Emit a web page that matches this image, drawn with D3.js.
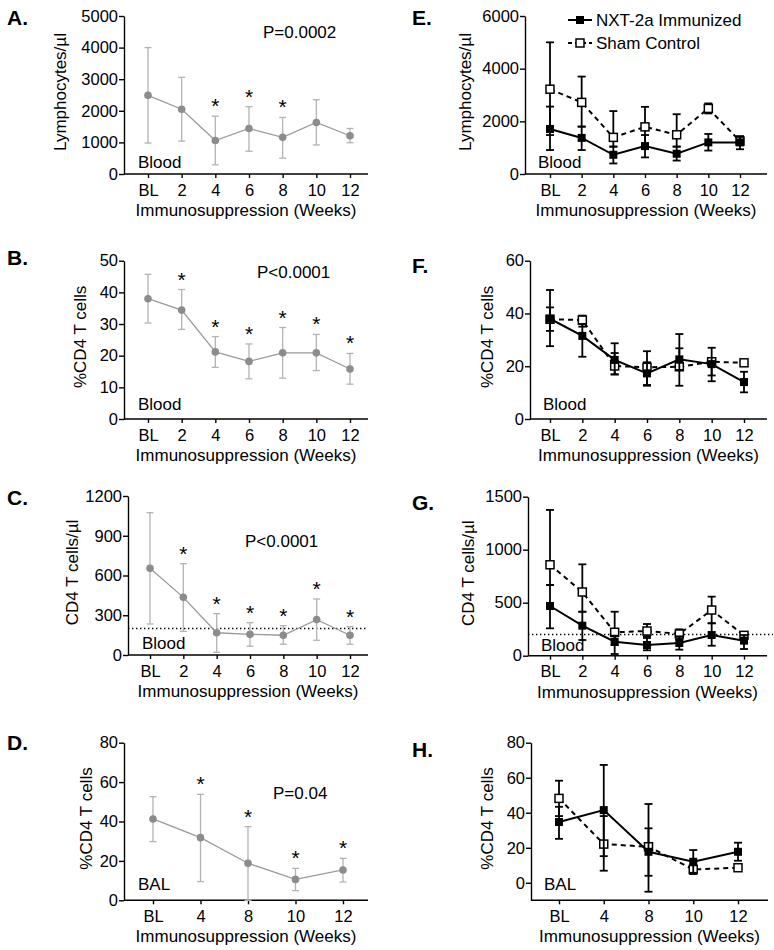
<!DOCTYPE html>
<html>
<head>
<meta charset="utf-8">
<script src="https://cdn.jsdelivr.net/npm/d3@7"></script>
<style>
    body { margin: 0; background: #fff; }
    svg { font-family: "Liberation Sans", Arial, sans-serif; }
</style>
</head>
<body>
<svg id="drawing_region" width="774" height="950"></svg>
<script>
// x categories
const weeksBlood = ["BL", "2", "4", "6", "8", "10", "12"];
const weeksBal = ["BL", "4", "8", "10", "12"];

// A. lymphocytes, all animals
const lymphMean = [2490, 2050, 1060, 1440, 1160, 1630, 1210];
const lymphLow = [980, 1040, 290, 720, 500, 920, 990];
const lymphHigh = [4000, 3060, 1830, 2130, 1790, 2350, 1440];
const lymphStars = [0, 0, 1, 1, 1, 0, 0];

// B. %CD4 blood, all animals
const pctMean = [38.0, 34.4, 21.2, 18.2, 20.9, 20.9, 15.8];
const pctLow = [30.3, 28.3, 16.3, 12.7, 12.9, 15.3, 11.0];
const pctHigh = [45.7, 40.9, 26.0, 23.7, 28.9, 26.7, 20.7];
const pctStars = [0, 1, 1, 1, 1, 1, 1];

// C. CD4 counts, all animals
const countMean = [654, 435, 168, 156, 149, 267, 149];
const countLow = [234, 179, 20, 66, 81, 111, 81];
const countHigh = [1074, 689, 312, 244, 221, 423, 214];
const countStars = [0, 1, 1, 1, 1, 1, 1];

// D. %CD4 BAL, all animals
const balMean = [41.3, 31.8, 18.8, 10.6, 15.4];
const balLow = [29.8, 9.5, 0, 4.9, 9.3];
const balHigh = [52.6, 53.8, 37.4, 16.2, 21.3];
const balStars = [0, 1, 1, 1, 1];

// E. lymphocytes by group
const immLymphMean = [1710, 1370, 730, 1060, 770, 1200, 1200];
const immLymphLow = [910, 910, 400, 630, 510, 890, 940];
const immLymphHigh = [2560, 1800, 1040, 1480, 1040, 1520, 1440];
const shamLymphMean = [3220, 2720, 1390, 1790, 1490, 2490, 1250];
const shamLymphLow = [1480, 1800, 1040, 1100, 1040, 2300, 1100];
const shamLymphHigh = [5000, 3700, 2390, 2550, 2270, 2680, 1400];

// F. %CD4 blood by group
const immPctMean = [38.0, 31.5, 22.4, 17.3, 22.6, 20.8, 14.0];
const immPctLow = [27.6, 23.6, 16.9, 12.6, 18.6, 14.3, 10.1];
const immPctHigh = [48.9, 36.0, 28.7, 21.5, 26.8, 27.0, 17.9];
const shamPctMean = [37.8, 37.5, 20.1, 19.6, 19.8, 21.7, 21.3];
const shamPctLow = [33.4, 35.0, 16.9, 12.9, 12.6, 16.5, 21.3];
const shamPctHigh = [42.3, 39.2, 25.0, 25.7, 32.2, 23.0, 21.3];

// G. CD4 counts by group
const immCountMean = [469, 283, 132, 101, 120, 195, 142];
const immCountLow = [258, 148, 16, 51, 57, 94, 63];
const immCountHigh = [667, 415, 189, 183, 183, 306, 195];
const shamCountMean = [858, 601, 221, 233, 205, 431, 192];
const shamCountLow = [667, 415, 100, 167, 155, 306, 164];
const shamCountHigh = [1375, 862, 415, 299, 249, 557, 220];

// H. %CD4 BAL by group
const immBalMean = [34.7, 41.5, 17.7, 12.0, 17.7];
const immBalLow = [25.1, 15.2, 4.0, 5.7, 12.6];
const immBalHigh = [43.4, 67.3, 31.1, 18.7, 22.9];
const shamBalMean = [48.2, 22.1, 20.6, 7.6, 8.6];
const shamBalLow = [38.1, 6.9, -5.1, 5.0, 8.6];
const shamBalHigh = [58.3, 38.1, 45.0, 10.0, 8.6];

const CD4_THRESHOLD = 200;

const svg = d3.select('#drawing_region');
const FONT = 16.5;

function drawPanel(c) {
    const g = svg.append('g');

    const x = d3.scalePoint().domain(c.weeks).range([c.px0, c.px1]);
    const y = d3.scaleLinear().domain(c.domain).range([c.yBottom, c.yTop]);

    // axes
    const yg = g.append('g')
        .attr('transform', `translate(${c.x0},0)`)
        .call(d3.axisLeft(y).tickValues(c.ticks).tickFormat(d3.format('d'))
            .tickSize(5).tickSizeOuter(0).tickPadding(1));
    const xg = g.append('g')
        .attr('transform', `translate(0,${c.yBottom})`)
        .call(d3.axisBottom(x).tickSize(4).tickSizeOuter(0).tickPadding(6));
    xg.select('.domain').remove();
    xg.append('line')
        .attr('x1', c.x0).attr('x2', c.x1)
        .attr('stroke', '#000').attr('stroke-width', 1.4);
    [yg, xg].forEach(a => {
        a.attr('font-size', FONT).attr('font-family', null);
        a.selectAll('path, line').attr('stroke-width', 1.4);
    });

    // axis titles
    g.append('text')
        .attr('transform', `translate(${c.titleX},${(c.yTop + c.yBottom) / 2 - 3}) rotate(-90)`)
        .attr('text-anchor', 'middle')
        .attr('dominant-baseline', 'central')
        .attr('font-size', FONT + 0.5)
        .text(c.yTitle);
    g.append('text')
        .attr('x', (c.x0 + c.x1) / 2)
        .attr('y', c.yBottom + 42)
        .attr('text-anchor', 'middle')
        .attr('font-size', FONT + 0.5)
        .text('Immunosuppression (Weeks)');

    // panel letter
    g.append('text')
        .attr('x', c.letterX).attr('y', c.letterY)
        .attr('font-size', 21)
        .attr('font-weight', 'bold')
        .text(c.letter);

    // tissue label
    g.append('text')
        .attr('x', c.x0 + c.tissueDx)
        .attr('y', c.tissueY)
        .attr('font-size', FONT + 0.5)
        .text(c.tissue);

    if (c.pText) {
        g.append('text')
            .attr('x', c.pX).attr('y', c.pY)
            .attr('font-size', FONT + 0.5)
            .text(c.pText);
    }

    if (c.threshold) {
        g.append('line')
            .attr('x1', c.x0).attr('x2', c.dotEnd)
            .attr('y1', y(c.threshold)).attr('y2', y(c.threshold))
            .attr('stroke', '#000')
            .attr('stroke-width', 1.3)
            .attr('stroke-dasharray', '1.4,2.6');
    }

    c.series.forEach(s => {
        const gray = s.style === 'gray';
        const barCol = gray ? '#b3b3b3' : '#000';
        const barW = gray ? 1.3 : 1.8;
        const capHalf = gray ? 3.5 : 4;
        const sg = g.append('g');

        const line = d3.line()
            .x((d, i) => x(c.weeks[i]))
            .y(d => y(d));
        sg.append('path')
            .datum(s.mean)
            .attr('d', line)
            .attr('fill', 'none')
            .attr('stroke', gray ? '#9a9a9a' : '#000')
            .attr('stroke-width', gray ? 1.3 : 2)
            .attr('stroke-dasharray', s.style === 'open' ? '5,4' : null);

        c.weeks.forEach((w, i) => {
            const cx = x(w);
            sg.append('line')
                .attr('x1', cx).attr('x2', cx)
                .attr('y1', y(s.low[i])).attr('y2', y(s.high[i]))
                .attr('stroke', barCol).attr('stroke-width', barW);
            [s.low[i], s.high[i]].forEach(v => {
                sg.append('line')
                    .attr('x1', cx - capHalf).attr('x2', cx + capHalf)
                    .attr('y1', y(v)).attr('y2', y(v))
                    .attr('stroke', barCol).attr('stroke-width', barW);
            });
        });

        if (gray) {
            sg.selectAll('circle')
                .data(s.mean)
                .enter()
                .append('circle')
                .attr('cx', (d, i) => x(c.weeks[i]))
                .attr('cy', d => y(d))
                .attr('r', 3.8)
                .attr('fill', '#8c8c8c');
        } else {
            sg.selectAll('rect')
                .data(s.mean)
                .enter()
                .append('rect')
                .attr('x', (d, i) => x(c.weeks[i]) - 4)
                .attr('y', d => y(d) - 4)
                .attr('width', 8).attr('height', 8)
                .attr('fill', s.style === 'open' ? '#fff' : '#000')
                .attr('stroke', '#000')
                .attr('stroke-width', s.style === 'open' ? 1.5 : 0);
        }

        if (s.stars) {
            const marked = s.stars
                .map((v, i) => ({ v: v, i: i }))
                .filter(d => d.v);
            sg.selectAll('text.star')
                .data(marked)
                .enter()
                .append('text')
                .attr('class', 'star')
                .attr('x', d => x(c.weeks[d.i]))
                .attr('y', d => y(s.high[d.i]) - 3)
                .attr('text-anchor', 'middle')
                .attr('font-size', 21)
                .text('*');
        }
    });
}

const left = { x0: 124, x1: 368, letterX: 7, tissueDx: 14 };
const right = { letterX: 412, tissueDx: 13, x1: 767 };

const panels = [
    Object.assign({}, left, {
        letter: 'A.', letterY: 25, weeks: weeksBlood, px0: 148, px1: 350,
        yTop: 16, yBottom: 174, domain: [0, 5000], ticks: [0, 1000, 2000, 3000, 4000, 5000],
        yTitle: 'Lymphocytes/µl', titleX: 60, tissue: 'Blood', tissueY: 168,
        pText: 'P=0.0002', pX: 263, pY: 38,
        series: [{ style: 'gray', mean: lymphMean, low: lymphLow, high: lymphHigh, stars: lymphStars }]
    }),
    Object.assign({}, left, {
        letter: 'B.', letterY: 265, weeks: weeksBlood, px0: 148, px1: 350,
        yTop: 260.7, yBottom: 419, domain: [0, 50], ticks: [0, 10, 20, 30, 40, 50],
        yTitle: '%CD4 T cells', titleX: 80, tissue: 'Blood', tissueY: 410,
        pText: 'P<0.0001', pX: 257, pY: 278,
        series: [{ style: 'gray', mean: pctMean, low: pctLow, high: pctHigh, stars: pctStars }]
    }),
    Object.assign({}, left, {
        letter: 'C.', letterY: 505, weeks: weeksBlood, x0: 128, px0: 150, px1: 350,
        yTop: 496, yBottom: 655, domain: [0, 1200], ticks: [0, 300, 600, 900, 1200],
        yTitle: 'CD4 T cells/µl', titleX: 72, tissue: 'Blood', tissueY: 649,
        pText: 'P<0.0001', pX: 245, pY: 547,
        threshold: CD4_THRESHOLD, dotEnd: 367,
        series: [{ style: 'gray', mean: countMean, low: countLow, high: countHigh, stars: countStars }]
    }),
    Object.assign({}, left, {
        letter: 'D.', letterY: 750, weeks: weeksBal, px0: 153, px1: 343,
        yTop: 742.7, yBottom: 900.3, domain: [0, 80], ticks: [0, 20, 40, 60, 80],
        yTitle: '%CD4 T cells', titleX: 86, tissue: 'BAL', tissueY: 890,
        pText: 'P=0.04', pX: 273, pY: 799,
        series: [{ style: 'gray', mean: balMean, low: balLow, high: balHigh, stars: balStars }]
    }),
    Object.assign({}, right, {
        letter: 'E.', letterY: 25, weeks: weeksBlood, x0: 525, px0: 550, px1: 740,
        yTop: 16, yBottom: 174, domain: [0, 6000], ticks: [0, 2000, 4000, 6000],
        yTitle: 'Lymphocytes/µl', titleX: 465, tissue: 'Blood', tissueY: 168,
        series: [
            { style: 'open', mean: shamLymphMean, low: shamLymphLow, high: shamLymphHigh },
            { style: 'filled', mean: immLymphMean, low: immLymphLow, high: immLymphHigh }
        ]
    }),
    Object.assign({}, right, {
        letter: 'F.', letterY: 273, weeks: weeksBlood, x0: 530, px0: 550, px1: 744,
        yTop: 260.7, yBottom: 419, domain: [0, 60], ticks: [0, 20, 40, 60],
        yTitle: '%CD4 T cells', titleX: 487, tissue: 'Blood', tissueY: 410,
        series: [
            { style: 'open', mean: shamPctMean, low: shamPctLow, high: shamPctHigh },
            { style: 'filled', mean: immPctMean, low: immPctLow, high: immPctHigh }
        ]
    }),
    Object.assign({}, right, {
        letter: 'G.', letterY: 510, weeks: weeksBlood, x0: 528, px0: 550, px1: 744,
        yTop: 496.7, yBottom: 655.7, domain: [0, 1500], ticks: [0, 500, 1000, 1500],
        yTitle: 'CD4 T cells/µl', titleX: 468, tissue: 'Blood', tissueY: 651,
        threshold: CD4_THRESHOLD, dotEnd: 773,
        series: [
            { style: 'open', mean: shamCountMean, low: shamCountLow, high: shamCountHigh },
            { style: 'filled', mean: immCountMean, low: immCountLow, high: immCountHigh }
        ]
    }),
    Object.assign({}, right, {
        letter: 'H.', letterY: 757, weeks: weeksBal, x0: 531, x1: 768, px0: 559, px1: 738,
        yTop: 742.7, yBottom: 900.3, domain: [-10, 80], ticks: [0, 20, 40, 60, 80],
        yTitle: '%CD4 T cells', titleX: 487, tissue: 'BAL', tissueY: 890,
        series: [
            { style: 'open', mean: shamBalMean, low: shamBalLow, high: shamBalHigh },
            { style: 'filled', mean: immBalMean, low: immBalLow, high: immBalHigh }
        ]
    })
];

panels.forEach(p => drawPanel(p));

// legend in panel E
const legend = svg.append('g');
[
    { label: 'NXT-2a Immunized', style: 'filled', y: 20 },
    { label: 'Sham Control', style: 'open', y: 43 }
].forEach(d => {
    legend.append('line')
        .attr('x1', 568).attr('x2', 592)
        .attr('y1', d.y).attr('y2', d.y)
        .attr('stroke', '#000').attr('stroke-width', 2)
        .attr('stroke-dasharray', d.style === 'open' ? '4,3' : null);
    legend.append('rect')
        .attr('x', 576).attr('y', d.y - 4)
        .attr('width', 8).attr('height', 8)
        .attr('fill', d.style === 'open' ? '#fff' : '#000')
        .attr('stroke', '#000')
        .attr('stroke-width', d.style === 'open' ? 1.5 : 0);
    legend.append('text')
        .attr('x', 596).attr('y', d.y + 6)
        .attr('font-size', FONT + 0.5)
        .text(d.label);
});
</script>
</body>
</html>
